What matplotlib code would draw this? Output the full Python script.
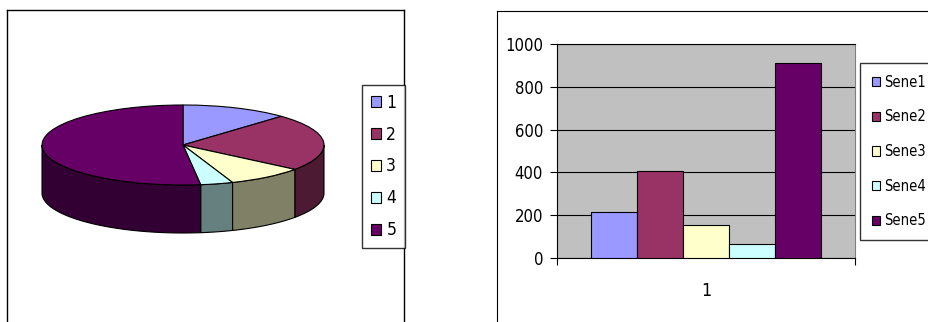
import numpy as np
import matplotlib
matplotlib.use("Agg")
import matplotlib.pyplot as plt
from matplotlib.patches import Polygon
from matplotlib import font_manager as fm
import matplotlib.colors as mcolors

# ---- data ----
pie_labels = ["1", "2", "3", "4", "5"]
series_labels = ["Sene1", "Sene2", "Sene3", "Sene4", "Sene5"]
values = [215, 405, 155, 65, 910]
category = ["1"]
colors = ["#9999FF", "#993366", "#FFFFCC", "#CCFFFF", "#660066"]
yticks = [0, 200, 400, 600, 800, 1000]

# pick a narrow font if one is installed
narrow_path = None
prefs = ["LiberationSansNarrow-Regular", "DejaVuSansCondensed.ttf",
         "RobotoCondensed-Regular", "Roboto_Condensed-Regular",
         "OpenSans_Condensed-Regular", "OpenSans-CondensedRegular"]
files = [f.fname for f in fm.fontManager.ttflist]
for p in prefs:
    hits = [f for f in files if p in f]
    if hits:
        narrow_path = hits[0]
        break
plt.rcParams["font.family"] = ["Liberation Sans", "DejaVu Sans"]

def fprop(size):
    if narrow_path:
        return fm.FontProperties(fname=narrow_path, size=size)
    return fm.FontProperties(family=["Liberation Sans"], size=size)

W, H = 929, 322
fig = plt.figure(figsize=(W / 100, H / 100), dpi=100)
fig.patch.set_facecolor("white")

def fx(x):
    return x / W

def fy(y):
    return (H - y) / H

# ---------------- left panel: 3D pie ----------------
axp = fig.add_axes([fx(7), 0, fx(404) - fx(7), fy(10)])
wedges, _ = axp.pie(values, colors=colors, startangle=90, counterclock=False,
                    wedgeprops=dict(edgecolor="black", linewidth=0.8))
axp.set_aspect("auto")
# 1 unit x = 141 px, 1 unit y = 40 px; center at (183, 145)
axp.set_xlim(-(183 - 7) / 141, (404 - 183) / 141)
axp.set_ylim(-(322 - 145) / 40, (145 - 10) / 40)
axp.set_frame_on(True)
for s in ["left", "top", "right"]:
    axp.spines[s].set_color("black")
    axp.spines[s].set_linewidth(1.0)
axp.spines["bottom"].set_visible(False)
axp.set_xticks([])
axp.set_yticks([])

depth = 1.2
total = float(sum(values))
cum = np.cumsum([0] + values) / total
for i, c in enumerate(colors):
    a_start = 90 - cum[i] * 360
    a_end = 90 - cum[i + 1] * 360
    lo, hi = max(a_end, -180), min(a_start, 0)
    if hi <= lo:
        continue
    t = np.radians(np.linspace(lo, hi, 80))
    top = np.column_stack([np.cos(t), np.sin(t)])
    bot = np.column_stack([np.cos(t), np.sin(t) - depth])[::-1]
    rgb = np.array(mcolors.to_rgb(c)) * 0.5
    axp.add_patch(Polygon(np.vstack([top, bot]), closed=True, facecolor=rgb,
                          edgecolor="black", linewidth=0.8, zorder=0.5))

leg1 = axp.legend(wedges, pie_labels, loc="upper left",
                  bbox_to_anchor=(fx(362), fy(85)), bbox_transform=fig.transFigure,
                  frameon=True, fancybox=False, edgecolor="black", prop=fprop(12.5),
                  handlelength=0.6, handleheight=0.6, handletextpad=0.3,
                  labelspacing=0.8, borderpad=0.5, borderaxespad=0)
leg1.get_frame().set_linewidth(1.0)

# ---------------- right panel: bar chart ----------------
axf = fig.add_axes([fx(497), 0, fx(940) - fx(497), fy(11)])
axf.set_xticks([])
axf.set_yticks([])
axf.spines["bottom"].set_visible(False)
axf.spines["right"].set_visible(False)
axf.patch.set_alpha(0)

axb = fig.add_axes([fx(557), fy(258), fx(855) - fx(557), fy(44) - fy(258)])
axb.set_facecolor("#C0C0C0")
n = len(values)
bw = 0.154
x0 = np.arange(len(category))
for i in range(n):
    axb.bar(x0 + (i - (n - 1) / 2) * bw, [values[i]], width=bw, color=colors[i],
            edgecolor="black", linewidth=0.8, zorder=3, label=series_labels[i])
axb.set_xlim(-0.5, 0.5)
axb.set_ylim(0, 1000)
axb.set_yticks(yticks)
axb.set_yticklabels([str(v) for v in yticks])
for lab in axb.get_yticklabels():
    lab.set_fontproperties(fprop(12))
axb.yaxis.grid(True, color="black", linewidth=0.8, zorder=1)
axb.set_axisbelow(True)
axb.tick_params(axis="y", direction="out", length=5, width=0.8, pad=5)
axb.set_xticks([-0.5, 0.5])
axb.set_xticklabels(["", ""])
axb.tick_params(axis="x", which="major", direction="out", length=5, width=0.8)
axb.set_xticks([0], category, minor=True)
axb.tick_params(axis="x", which="minor", length=0, pad=17)
for lab in axb.get_xticklabels(minor=True):
    lab.set_fontproperties(fprop(13))
axb.spines["left"].set_color("black")
axb.spines["bottom"].set_color("black")
axb.spines["top"].set_color("black")
axb.spines["right"].set_color("#808080")
for s in axb.spines.values():
    s.set_linewidth(0.8)

leg2 = axb.legend(loc="upper left", bbox_to_anchor=(fx(860), fy(63)),
                  bbox_transform=fig.transFigure, frameon=True, fancybox=False,
                  edgecolor="black", prop=fprop(10.5), handlelength=0.6, handleheight=0.6,
                  handletextpad=0.25, labelspacing=1.35, borderpad=0.8, borderaxespad=0)
leg2.get_frame().set_linewidth(1.0)

fig.savefig("out.png", dpi=100)
